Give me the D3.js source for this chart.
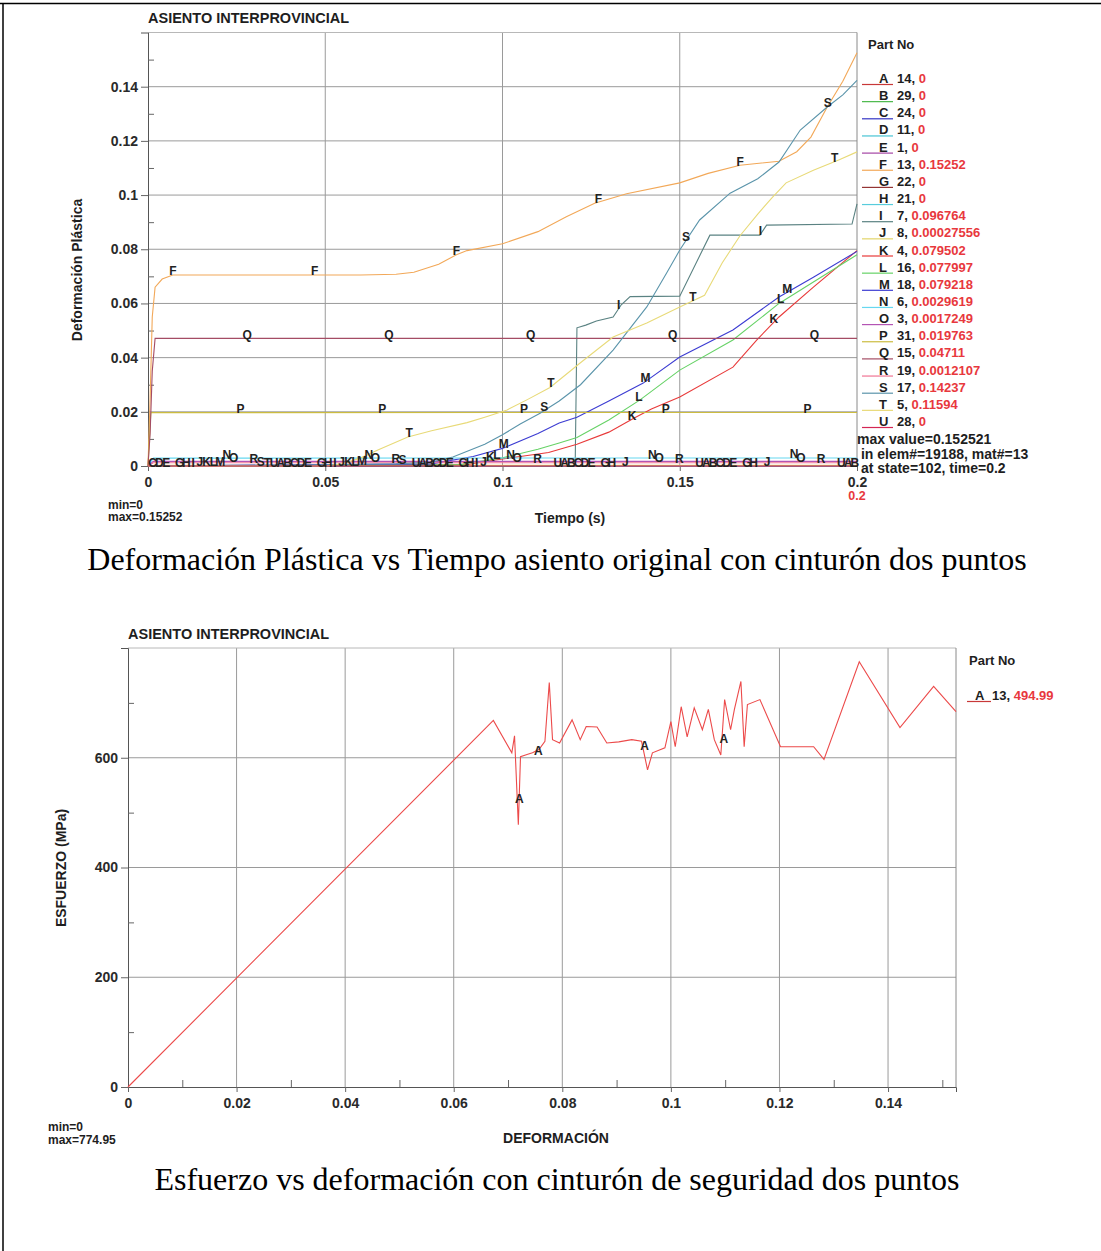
<!DOCTYPE html>
<html><head><meta charset="utf-8">
<script src="https://cdn.jsdelivr.net/npm/d3@7"></script>
<style>
body{margin:0;background:#fff;}
</style></head><body>
<svg id="c" width="1101" height="1251" font-family="'Liberation Sans',Arial,sans-serif"></svg>
<script>
// ---------------- DATA: top chart (plastic strain vs time) ----------------
const partLetters = ["A","B","C","D","E","F","G","H","I","J","K","L","M","N","O","P","Q","R","S","T","U"];
const partIds = [14,29,24,11,1,13,22,21,7,8,4,16,18,6,3,31,15,19,17,5,28];
const partMaxLabels = ["0","0","0","0","0","0.15252","0","0","0.096764","0.00027556","0.079502","0.077997","0.079218","0.0029619","0.0017249","0.019763","0.04711","0.0012107","0.14237","0.11594","0"];
const partColors = ["#c83838","#48b848","#3434c4","#48c4d4","#a444a4","#f2a858","#943434","#58ccdc","#5a8282","#e2d468","#e83a3a","#66d266","#3c3cd2","#66d8f0","#b454b4","#ccbc40","#a44c64","#f07494","#5a94aa","#e8da78","#d42654"];

const curveA = [[0,0],[0.2,0]];
const curveB = [[0,0],[0.2,0]];
const curveC = [[0,0],[0.2,0]];
const curveD = [[0,0],[0.2,0]];
const curveE = [[0,0],[0.2,0]];
const curveF = [[0,0],[0.0006,0.025],[0.0012,0.055],[0.002,0.066],[0.004,0.069],[0.007,0.0705],[0.06,0.0705],[0.07,0.0708],[0.075,0.0715],[0.082,0.0745],[0.087,0.078],[0.09,0.0795],[0.1,0.082],[0.11,0.0865],[0.118,0.092],[0.126,0.097],[0.135,0.1005],[0.15,0.1045],[0.158,0.108],[0.167,0.111],[0.178,0.1125],[0.183,0.116],[0.187,0.1214],[0.1916,0.1325],[0.196,0.142],[0.2,0.15252]];
const curveG = [[0,0],[0.2,0]];
const curveH = [[0,0],[0.2,0]];
const curveI = [[0,0],[0.1205,0],[0.121,0.051],[0.1235,0.052],[0.1265,0.0535],[0.1312,0.055],[0.1335,0.0595],[0.136,0.0625],[0.15,0.0627],[0.1585,0.0852],[0.1726,0.0852],[0.1745,0.0889],[0.1986,0.0893],[0.2,0.096764]];
const curveJ = [[0,0],[0.002,0.00027],[0.2,0.00027556]];
const curveK = [[0,0],[0.09,0.0005],[0.0965,0.002],[0.105,0.0035],[0.113,0.005],[0.121,0.008],[0.13,0.0125],[0.1369,0.0175],[0.142,0.021],[0.15,0.0255],[0.165,0.0365],[0.1717,0.0465],[0.178,0.055],[0.1877,0.066],[0.2,0.079502]];
const curveL = [[0,0],[0.088,0.0005],[0.1,0.003],[0.11,0.0062],[0.116,0.0085],[0.121,0.0105],[0.13,0.017],[0.1388,0.0244],[0.15,0.0354],[0.165,0.0465],[0.178,0.06],[0.2,0.077997]];
const curveM = [[0,0],[0.08,0.0008],[0.0917,0.0035],[0.1,0.0065],[0.11,0.012],[0.116,0.0159],[0.121,0.018],[0.13,0.024],[0.1397,0.0306],[0.15,0.0402],[0.165,0.0502],[0.178,0.0624],[0.1877,0.0697],[0.2,0.079218]];
const curveN = [[0,0],[0.0015,0.0029],[0.2,0.0029619]];
const curveO = [[0,0],[0.0015,0.0017],[0.2,0.0017249]];
const curveP = [[0,0],[0.0008,0.0197],[0.2,0.019763]];
const curveQ = [[0,0],[0.0006,0.012],[0.0012,0.035],[0.002,0.0471],[0.2,0.04711]];
const curveR = [[0,0],[0.0015,0.0012],[0.2,0.0012107]];
const curveS = [[0,0],[0.04,0.0003],[0.07,0.0008],[0.08,0.0015],[0.086,0.0033],[0.095,0.008],[0.1,0.0115],[0.105,0.0155],[0.1106,0.0195],[0.116,0.024],[0.122,0.03],[0.1312,0.0428],[0.1407,0.0587],[0.1463,0.0712],[0.15,0.0797],[0.1556,0.0908],[0.1642,0.1007],[0.172,0.106],[0.178,0.1122],[0.184,0.124],[0.1916,0.1325],[0.196,0.137],[0.2,0.14237]];
const curveT = [[0,0],[0.05,0],[0.055,0.0008],[0.06,0.003],[0.065,0.006],[0.0733,0.0107],[0.08,0.013],[0.09,0.016],[0.095,0.018],[0.1013,0.0207],[0.107,0.0245],[0.1134,0.029],[0.1219,0.038],[0.1312,0.0476],[0.1407,0.0528],[0.15,0.0587],[0.157,0.063],[0.162,0.075],[0.167,0.085],[0.172,0.093],[0.176,0.099],[0.18,0.1045],[0.1877,0.1092],[0.195,0.113],[0.2,0.11594]];
const curveU = [[0,0],[0.2,0]];
const topCurves = [curveA,curveB,curveC,curveD,curveE,curveF,curveG,curveH,curveI,curveJ,curveK,curveL,curveM,curveN,curveO,curveP,curveQ,curveR,curveS,curveT,curveU];

const topXTicks = [0,0.05,0.1,0.15,0.2];
const topYTicks = [0,0.02,0.04,0.06,0.08,0.1,0.12,0.14];
const topYMinor = [0.01,0.03,0.05,0.07,0.09,0.11,0.13,0.15];
const topInfo = ["max value=0.152521"," in elem#=19188, mat#=13"," at state=102, time=0.2"];

// ---------------- DATA: bottom chart (stress vs strain) ----------------
const stressCurveA = [[0,0],[0.0673,668],[0.0707,609],[0.0712,640],[0.0719,478],[0.0723,602],[0.0735,606],[0.0745,609],[0.0757,615],[0.0768,630],[0.0776,737],[0.0782,633],[0.0795,627],[0.0818,669],[0.0833,633],[0.0844,657],[0.0864,656],[0.0882,627],[0.0904,629],[0.0928,633],[0.0946,630],[0.0957,578],[0.0966,609],[0.0989,618],[0.1,666],[0.1008,620],[0.1019,693],[0.103,638],[0.1043,691],[0.1058,651],[0.1069,688],[0.108,633],[0.1092,605],[0.1099,706],[0.111,651],[0.1117,688],[0.1129,739],[0.1135,620],[0.1141,697],[0.1164,706],[0.1202,620],[0.1263,620],[0.1282,597],[0.1347,774.95],[0.1422,655],[0.1484,730],[0.15252,684]];
const stressLabelStrains = [0.0717,0.0752,0.0948,0.1094];
const botXTicks = [0,0.02,0.04,0.06,0.08,0.1,0.12,0.14];
const botXMinor = [0.01,0.03,0.05,0.07,0.09,0.11,0.13,0.15];
const botYTicks = [0,200,400,600];
const botYMinor = [100,300,500,700];

// ---------------- DRAW ----------------
const svg = d3.select("#c");
const INK = "#1e1e1e", RED = "#e8383d", GRID = "#9a9a9a";
const SANS = "'Liberation Sans',Arial,sans-serif";
const SERIF = "'Liberation Serif','Times New Roman',serif";

function interp(curve, t){
  for(let i=1;i<curve.length;i++){
    if(t<=curve[i][0]){
      const a=curve[i-1], b=curve[i];
      const f=(t-a[0])/((b[0]-a[0])||1);
      return a[1]+f*(b[1]-a[1]);
    }
  }
  return curve[curve.length-1][1];
}

// page frame
svg.append("line").attr("x1",0).attr("x2",1101).attr("y1",3.5).attr("y2",3.5).attr("stroke","#000").attr("stroke-width",1.5);
svg.append("line").attr("x1",3).attr("x2",3).attr("y1",3).attr("y2",1251).attr("stroke","#000").attr("stroke-width",1.5);

function txt(g,x,y,s,opts={}){
  const t=g.append("text").attr("x",x).attr("y",y).text(s)
    .attr("font-size",opts.size||14).attr("font-weight",opts.weight||"bold")
    .attr("fill",opts.fill||INK).attr("text-anchor",opts.anchor||"start")
    .style("font-family",opts.family||SANS);
  return t;
}

function drawChart(cfg){
  const g = svg.append("g");
  const x = cfg.x, y = cfg.y;
  const [x0,x1] = x.range(), [y0,y1] = y.range();
  g.append("g").selectAll("line").data(cfg.xTicks.filter(d=>x(d)>x0+1 && x(d)<x1-1)).join("line")
    .attr("x1",d=>x(d)).attr("x2",d=>x(d)).attr("y1",y0).attr("y2",y1).attr("stroke",GRID).attr("stroke-width",1);
  g.append("g").selectAll("line").data(cfg.yTicks.filter(d=>y(d)<y0-1 && y(d)>y1+1)).join("line")
    .attr("x1",x0).attr("x2",x1).attr("y1",d=>y(d)).attr("y2",d=>y(d)).attr("stroke",GRID).attr("stroke-width",1);
  g.append("line").attr("x1",x0).attr("x2",x1).attr("y1",y1).attr("y2",y1).attr("stroke","#b8b8b8");
  g.append("line").attr("x1",x1).attr("x2",x1).attr("y1",y1).attr("y2",y0).attr("stroke","#8a8a8a");
  const ax = g.append("g").attr("transform",`translate(${x0},0)`)
    .call(d3.axisLeft(y).tickValues(cfg.yTicks).tickSize(7).tickPadding(3).tickFormat(d3.format("~g")));
  const bx = g.append("g").attr("transform",`translate(0,${y0})`)
    .call(d3.axisBottom(x).tickValues(cfg.xTicks).tickSize(5).tickPadding(6).tickFormat(d3.format("~g")));
  const mi = g.append("g").attr("transform",`translate(${x0},0)`)
    .call(d3.axisRight(y).tickValues(cfg.yMinor).tickSize(6).tickFormat(""));
  if(cfg.xMinor){
    g.append("g").attr("transform",`translate(0,${y0})`)
      .call(d3.axisTop(x).tickValues(cfg.xMinor).tickSize(7).tickFormat(""))
      .select(".domain").remove();
  }
  mi.select(".domain").remove();
  [ax,bx].forEach(a=>{
    a.select(".domain").attr("stroke","#555");
    a.selectAll("text").attr("font-size",14).attr("font-weight","bold").attr("fill","#2a2a2a")
      .style("font-family",SANS);
  });
  g.selectAll(".tick line").attr("stroke","#666");
  return g;
}

// ---------- top chart ----------
const xT = d3.scaleLinear().domain([0,0.2]).range([148,857]);
const yT = d3.scaleLinear().domain([0,0.16]).range([466,32.5]);
const gT = drawChart({x:xT,y:yT,xTicks:topXTicks,yTicks:topYTicks,yMinor:topYMinor});

const lineT = d3.line().x(d=>xT(d[0])).y(d=>yT(d[1]));
const curvesG = gT.append("g");
topCurves.forEach((c,i)=>{
  curvesG.append("path").attr("d",lineT(c)).attr("fill","none")
    .attr("stroke",partColors[i]).attr("stroke-width",1.1);
});
const lblG = gT.append("g");
topCurves.forEach((c,i)=>{
  for(let k=0;k<6;k++){
    const t = i*0.04/21 - 0.0025 + k*0.04;
    if(t<=0 || t>=0.2) continue;
    lblG.append("text").attr("x",xT(t)).attr("y",yT(interp(c,t))+0.5)
      .attr("text-anchor","middle").attr("font-size",12).attr("font-weight","bold")
      .attr("fill","#222").style("font-family",SANS).text(partLetters[i]);
  }
});

txt(svg,148,23,"ASIENTO INTERPROVINCIAL",{size:14.5});
txt(svg,868,49,"Part No",{size:13});
partLetters.forEach((L,i)=>{
  const yy = 83 + i*17.15;
  svg.append("line").attr("x1",862).attr("x2",893).attr("y1",yy+1.5).attr("y2",yy+1.5)
    .attr("stroke",partColors[i]).attr("stroke-width",1.2);
  txt(svg,879,yy,L,{size:13});
  const t = txt(svg,897,yy,"",{size:13});
  t.append("tspan").text(partIds[i]+", ");
  t.append("tspan").attr("fill",RED).text(partMaxLabels[i]);
});
topInfo.forEach((s,i)=>{
  txt(svg,857,444+i*14.5,s,{size:14}).style("white-space","pre");
});
txt(svg,857,500,"0.2",{size:12.5,fill:RED,anchor:"middle"});
txt(svg,108,509,"min=0",{size:12});
txt(svg,108,521,"max=0.15252",{size:12});
txt(svg,570,523,"Tiempo (s)",{size:14,anchor:"middle"});
svg.append("text").attr("transform","translate(82,270) rotate(-90)").attr("text-anchor","middle")
  .attr("font-size",14).attr("font-weight","bold").attr("fill",INK).style("font-family",SANS).text("Deformación Plástica");

txt(svg,557,570,"Deformación Plástica vs Tiempo asiento original con cinturón dos puntos",
  {size:32,weight:"normal",anchor:"middle",fill:"#000",family:SERIF});

// ---------- bottom chart ----------
const xB = d3.scaleLinear().domain([0,0.15252]).range([128,956]);
const yB = d3.scaleLinear().domain([0,800]).range([1087,648]);
const gB = drawChart({x:xB,y:yB,xTicks:botXTicks,yTicks:botYTicks,yMinor:botYMinor,xMinor:botXMinor});
const lineB = d3.line().x(d=>xB(d[0])).y(d=>yB(d[1]));
gB.append("path").attr("d",lineB(stressCurveA)).attr("fill","none").attr("stroke","#ec4a4a").attr("stroke-width",1.1);
stressLabelStrains.forEach(s=>{
  gB.append("text").attr("x",xB(s)+2).attr("y",yB(interp(stressCurveA,s))+4)
    .attr("text-anchor","middle").attr("font-size",12).attr("font-weight","bold").attr("fill","#222")
    .style("font-family",SANS).text("A");
});
txt(svg,128,639,"ASIENTO INTERPROVINCIAL",{size:14.5});
txt(svg,969,665,"Part No",{size:13});
svg.append("line").attr("x1",967).attr("x2",991).attr("y1",701.5).attr("y2",701.5).attr("stroke","#c83838").attr("stroke-width",1.2);
txt(svg,975,700,"A",{size:13});
const tb = txt(svg,992,700,"",{size:13});
tb.append("tspan").text("13, ");
tb.append("tspan").attr("fill",RED).text("494.99");
txt(svg,48,1131,"min=0",{size:12});
txt(svg,48,1144,"max=774.95",{size:12});
txt(svg,556,1143,"DEFORMACIÓN",{size:14,anchor:"middle"});
svg.append("text").attr("transform","translate(66,868) rotate(-90)").attr("text-anchor","middle")
  .attr("font-size",14).attr("font-weight","bold").attr("fill",INK).style("font-family",SANS).text("ESFUERZO (MPa)");

txt(svg,557,1190,"Esfuerzo vs deformación con cinturón de seguridad dos puntos",
  {size:32,weight:"normal",anchor:"middle",fill:"#000",family:SERIF});
</script>
</body></html>
